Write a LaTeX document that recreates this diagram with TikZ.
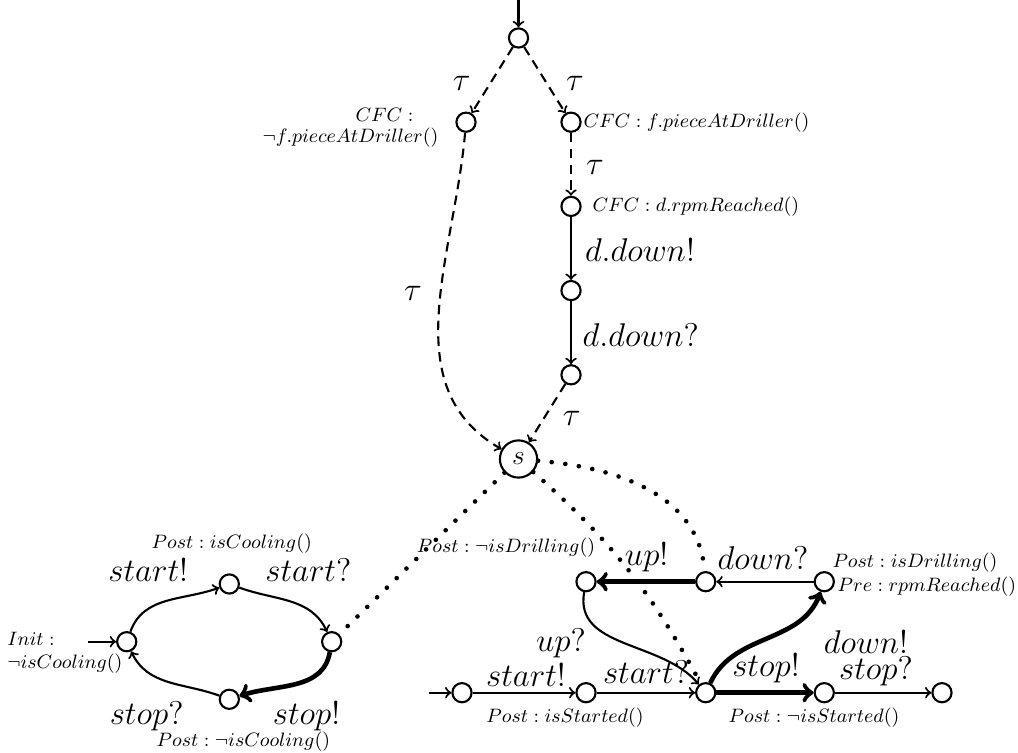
\RequirePackage{fix-cm}
\documentclass[tikz,border=0pt]{standalone}
\usepackage{amsmath, amssymb}
\usetikzlibrary{arrows.meta}

\begin{document}
\begin{tikzpicture}[>=to,
            loc/.style={draw, circle, line width=1pt, minimum size=0.32cm, inner sep=0pt},
            act/.style={font=\fontsize{15.6}{18}\selectfont, inner sep=1pt},
            cond/.style={font=\fontsize{9.2}{11}\selectfont, inner sep=1pt},
            move/.style={->, line width=1pt},
            heavy/.style={->, line width=2.2pt},
            silent/.style={->, line width=1pt, dash pattern=on 4.5pt off 3pt},
            link/.style={line width=2.2pt, line cap=round, dash pattern=on 0pt off 6.5pt}]

            \useasboundingbox (0,0) rectangle (16.967,12.55);

            % Controller: choice on the piece, then drilling down
            \node[loc] (q0) at (8.642,11.917) {};
            \node[loc] (q1) at (7.767,10.513) {};
            \node[loc] (q2) at (9.517,10.513) {};
            \node[loc] (q3) at (9.517,9.11) {};
            \node[loc] (q4) at (9.517,7.707) {};
            \node[loc] (q5) at (9.517,6.303) {};
            \node[loc, minimum size=0.62cm, font=\fontsize{13}{15}\selectfont] (s) at (8.642,4.9) {$s$};
            \coordinate (q0in) at (8.642,12.55);

            \node[cond, anchor=east, align=left, font=\fontsize{9.2}{9.6}\selectfont] (cfcl) at (7.35,10.42)
                {\hspace*{1.55cm}$CFC:$\\$\neg f.pieceAtDriller()$};
            \node[cond, anchor=west] (cfcr) at (9.683,10.5) {$CFC: f.pieceAtDriller()$};
            \node[cond, anchor=west] (cfcd) at (9.833,9.1) {$CFC: d.rpmReached()$};

            \draw[move] (q0in) -- (q0);
            \draw[silent] (q0) -- (q1);
            \draw[silent] (q0) -- (q2);
            \draw[silent] (q2) -- (q3);
            \draw[move] (q3) -- (q4);
            \draw[move] (q4) -- (q5);
            \draw[silent] (q1) to[out=-95, in=150] (s);
            \draw[silent] (q5) -- (s);

            \node[act] (tau1) at (7.695,11.16) {$\tau$};
            \node[act] (tau2) at (9.583,11.16) {$\tau$};
            \node[act] (tau3) at (9.917,9.767) {$\tau$};
            \node[act] (tau4) at (6.883,7.667) {$\tau$};
            \node[act] (tau5) at (9.528,5.578) {$\tau$};
            \node[act] (ddx) at (10.667,8.383) {$d.down!$};
            \node[act] (ddq) at (10.68,6.967) {$d.down?$};

            % Cooler
            \node[loc] (c0) at (2.112,1.855) {};
            \node[loc] (c1) at (3.822,2.817) {};
            \node[loc] (c2) at (5.528,1.855) {};
            \node[loc] (c3) at (3.822,0.895) {};
            \coordinate (c0in) at (1.47,1.855);

            \draw[move] (c0in) -- (c0);
            \draw[move] (c0) to[out=70, in=200] (c1);
            \draw[move] (c1) to[out=-20, in=115] (c2);
            \draw[heavy] (c2) to[out=-100, in=18] (c3);
            \draw[move] (c3) to[out=160, in=-65] (c0);

            \node[cond, align=left, anchor=west] (cinit) at (0.08,1.667) {$Init:$\\$\neg isCooling()$};
            \node[cond] (cpost1) at (3.862,3.495) {$Post: isCooling()$};
            \node[cond] (cpost2) at (4.056,0.188) {$Post: \neg isCooling()$};
            \node[act] (cstartx) at (2.472,3.05) {$start!$};
            \node[act] (cstartq) at (5.139,3.05) {$start?$};
            \node[act] (cstopq) at (2.444,0.62) {$stop?$};
            \node[act] (cstopx) at (5.111,0.62) {$stop!$};

            % Driller
            \node[loc] (d0) at (7.7,1.005) {};
            \node[loc] (d1) at (9.767,1.005) {};
            \node[loc] (d2) at (11.762,1.005) {};
            \node[loc] (d3) at (13.738,1.005) {};
            \node[loc] (d4) at (15.7,1.005) {};
            \node[loc] (u0) at (9.767,2.855) {};
            \node[loc] (u1) at (11.762,2.855) {};
            \node[loc] (u2) at (13.738,2.855) {};
            \coordinate (d0in) at (7.15,1.005);

            \draw[move] (d0in) -- (d0);
            \draw[move] (d0) -- (d1);
            \draw[move] (d1) -- (d2);
            \draw[heavy] (d2) -- (d3);
            \draw[move] (d3) -- (d4);
            \draw[move] (u2) -- (u1);
            \draw[heavy] (u1) -- (u0);
            \draw[move] (u0) to[out=-100, in=130] (d2);
            \draw[heavy] (d2) to[out=65, in=-110] (u2);

            \node[cond] (dpost1) at (8.433,3.417) {$Post: \neg isDrilling()$};
            \node[cond, anchor=west] (dpost2) at (13.833,3.167) {$Post: isDrilling()$};
            \node[cond, anchor=west] (dpre) at (13.92,2.767) {$Pre: rpmReached()$};
            \node[cond] (dpost3) at (9.417,0.583) {$Post: isStarted()$};
            \node[cond] (dpost4) at (13.567,0.583) {$Post: \neg isStarted()$};
            \node[act] (dupx) at (10.778,3.267) {$up!$};
            \node[act] (ddownq) at (12.717,3.25) {$down?$};
            \node[act] (dupq) at (9.35,1.833) {$up?$};
            \node[act] (dstartx) at (8.767,1.3) {$start!$};
            \node[act] (dstartq) at (10.767,1.35) {$start?$};
            \node[act] (dstopx) at (12.767,1.417) {$stop!$};
            \node[act] (ddownx) at (14.433,1.85) {$down!$};
            \node[act] (dstopq) at (14.6,1.367) {$stop?$};

            % Links from s into the components
            \draw[link] (s) -- (c2);
            \draw[link] (s) to[bend left=10] (d2);
            \draw[link] (s) to[out=-5, in=95] (u1);
        \end{tikzpicture}
\end{document}
